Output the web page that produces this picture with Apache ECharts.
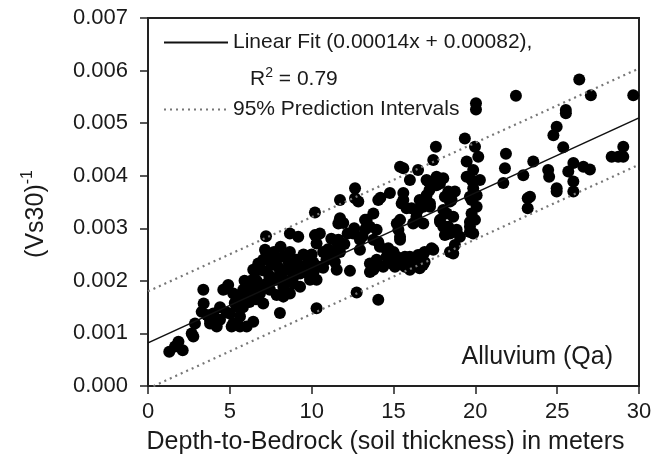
<!DOCTYPE html>
<html>
<head>
<meta charset="utf-8">
<script src="https://cdn.jsdelivr.net/npm/echarts@6/dist/echarts.min.js"></script>
<style>
  html, body { margin: 0; padding: 0; background: #fff; }
  #chart { width: 665px; height: 466px; }
</style>
</head>
<body>
<div id="chart"></div>
<script>
// depth to bedrock (m)
const depth = [
  1.3, 1.65, 1.86, 2.12, 2.67, 2.77, 2.87, 3.38, 3.28, 3.4, 3.79, 3.99, 3.79, 4.2, 4.4, 4.6, 4.75, 4.9,
  5.01, 5.11, 5.21, 5.21, 5.42, 5.62, 5.62, 5.62, 5.82, 6.03, 6.03, 6.13, 6.43, 6.43, 6.54, 6.54, 6.64,
  6.74, 6.84, 7.04, 7.04, 7.15, 7.21, 7.21, 7.25, 7.25, 7.45, 7.56, 7.86, 7.86, 7.86, 8.06, 8.06, 8.27,
  8.27, 8.27, 8.47, 8.67, 8.67, 8.67, 8.88, 8.88, 8.88, 9.08, 9.18, 9.29, 9.29, 9.49, 9.7, 9.9, 9.9,
  10.1, 10.2, 10.2, 10.3, 10.3, 10.3, 10.5, 10.5, 10.7, 10.9, 11.12, 11.32, 11.42, 11.53, 11.53, 11.53,
  11.63, 11.63, 11.73, 11.73, 11.73, 11.93, 12.34, 12.54, 12.65, 12.65, 12.75, 12.85, 12.95, 12.95,
  13.26, 13.26, 13.36, 13.36, 13.56, 13.56, 13.56, 13.77, 13.77, 13.77, 13.77, 13.97, 13.97, 14.07,
  14.07, 14.07, 14.17, 14.2, 14.37, 14.58, 14.58, 14.68, 14.78, 14.89, 15.0, 15.09, 15.2, 15.2, 15.3,
  15.4, 15.4, 15.4, 15.4, 15.4, 15.5, 15.6, 15.6, 15.6, 15.6, 15.7, 15.7, 15.8, 16.0, 16.0, 16.0, 16.1,
  16.2, 16.2, 16.4, 16.4, 16.4, 16.5, 16.5, 16.5, 16.6, 16.6, 16.82, 16.82, 16.82, 16.8, 16.9, 16.9,
  17.02, 17.02, 17.13, 17.2, 17.23, 17.23, 17.33, 17.43, 17.43, 17.59, 17.63, 17.63, 17.84, 17.84,
  17.84, 18.04, 18.04, 18.04, 18.14, 18.14, 18.25, 18.25, 18.35, 18.35, 18.45, 18.45, 18.45, 18.55,
  18.65, 18.65, 18.75, 18.75, 18.86, 19.06, 19.36, 19.47, 19.47, 19.67, 19.67, 19.67, 19.67, 19.77,
  19.77, 19.77, 19.87, 19.87, 19.87, 19.98, 19.98, 20.04, 20.04, 20.08, 20.08, 20.18, 20.28, 21.71,
  21.81, 21.87, 22.48, 22.93, 23.2, 23.2, 23.34, 23.54, 24.45, 24.51, 24.77, 24.97, 24.97, 24.97, 25.37,
  25.53, 25.53, 25.68, 25.99, 25.99, 25.99, 26.35, 26.6, 27.0, 27.06, 28.33, 28.73, 29.04, 29.04, 29.65,
  // extra points inside the dense band
  5.3, 5.8, 6.2, 6.6, 6.9, 7.4, 7.6, 8.0, 8.4, 8.6, 9.1, 9.5, 9.7, 10.0, 10.1, 10.7, 11.0, 11.2, 12.0,
  12.2, 12.6, 13.1, 7.0, 7.7, 8.1, 4.4, 4.8, 3.6, 6.3, 5.9
];
// (Vs30)^-1 values, same order as depth
const invVs30 = [
  0.00065, 0.00075, 0.00084, 0.00068, 0.00100, 0.00094, 0.00119, 0.00183, 0.00141, 0.00157, 0.00119,
  0.00138, 0.00126, 0.00113, 0.00126, 0.00183, 0.00185, 0.00192,
  0.00138, 0.00113, 0.00119, 0.00176, 0.00151, 0.00113, 0.00132, 0.00164, 0.00183, 0.00170, 0.00113,
  0.00183, 0.00122, 0.00221, 0.00183, 0.00217, 0.00200,
  0.00233, 0.00176, 0.00240, 0.00157, 0.00259, 0.00285, 0.00255, 0.00246, 0.00195, 0.00183, 0.00230,
  0.00240, 0.00202, 0.00173, 0.00214, 0.00139, 0.00246,
  0.00189, 0.00170, 0.00221, 0.00255, 0.00290, 0.00176, 0.00233, 0.00208, 0.00195, 0.00240, 0.00284,
  0.00214, 0.00189, 0.00227, 0.00246, 0.00233, 0.00202,
  0.00214, 0.00330, 0.00287, 0.00271, 0.00202, 0.00148, 0.00290, 0.00227, 0.00255, 0.00240, 0.00246,
  0.00246, 0.00236, 0.00274, 0.00259, 0.00221,
  0.00309, 0.00278, 0.00354, 0.00319, 0.00255, 0.00310, 0.00219, 0.00290, 0.00376, 0.00357, 0.00178,
  0.00351, 0.00278, 0.00259,
  0.00316, 0.00297, 0.00316, 0.00303, 0.00303, 0.00233, 0.00217, 0.00328, 0.00278, 0.00221, 0.00233,
  0.00297, 0.00240, 0.00354,
  0.00274, 0.00164, 0.00265, 0.00358, 0.00227, 0.00259, 0.00246, 0.00262, 0.00367, 0.00233, 0.00255,
  0.00227, 0.00309, 0.00246, 0.00297,
  0.00417, 0.00316, 0.00284, 0.00278, 0.00236, 0.00347, 0.00414, 0.00367, 0.00354, 0.00236, 0.00246,
  0.00227, 0.00338, 0.00392, 0.00246, 0.00221, 0.00338,
  0.00309, 0.00236, 0.00322, 0.00316, 0.00230, 0.00411, 0.00335, 0.00249, 0.00354, 0.00224, 0.00341,
  0.00309, 0.00252, 0.00230, 0.00255, 0.00236,
  0.00392, 0.00363, 0.00389, 0.00373, 0.00347, 0.00341, 0.00262, 0.00430, 0.00259, 0.00455, 0.00398,
  0.00382, 0.00385, 0.00316,
  0.00312, 0.00395, 0.00335, 0.00303, 0.00287, 0.00360, 0.00328, 0.00303, 0.00370, 0.00303, 0.00351,
  0.00290, 0.00255, 0.00354,
  0.00322, 0.00252, 0.00370, 0.00268, 0.00297, 0.00284, 0.00471, 0.00427, 0.00398, 0.00360, 0.00312,
  0.00303, 0.00293, 0.00392,
  0.00328, 0.00354, 0.00411, 0.00290, 0.00376, 0.00455, 0.00316, 0.00538, 0.00526, 0.00341, 0.00363,
  0.00436, 0.00392, 0.00386,
  0.00414, 0.00442, 0.00552, 0.00401, 0.00357, 0.00338, 0.00360, 0.00427, 0.00411, 0.00398, 0.00477,
  0.00493, 0.00376, 0.00370, 0.00454,
  0.00525, 0.00519, 0.00408, 0.00424, 0.00389, 0.00370, 0.00583, 0.00417, 0.00412, 0.00553, 0.00436,
  0.00436, 0.00455, 0.00436, 0.00553,
  0.00158, 0.00150, 0.00160, 0.00165, 0.00190, 0.00210, 0.00200, 0.00225, 0.00200, 0.00235, 0.00225,
  0.00250, 0.00215, 0.00250, 0.00235, 0.00225, 0.00260, 0.00280, 0.00270,
  0.00290, 0.00300, 0.00285, 0.00220, 0.00255, 0.00265, 0.00150, 0.00140, 0.00135, 0.00200, 0.00200
];

// fit line and 95% prediction bounds, read at the plot edges
const lineX = [0, 30];
const fitY = [0.00082, 0.0051];
const upperY = [0.0018, 0.00604];
const lowerY = [-0.00005, 0.00421];

const xTicks = [0, 5, 10, 15, 20, 25, 30];
const yTicks = [0, 0.001, 0.002, 0.003, 0.004, 0.005, 0.006, 0.007];

const FONT = 'Liberation Sans, Arial, sans-serif';
const fitName = 'Linear Fit (0.00014x + 0.00082),';
const piName = '95% Prediction Intervals';

const points = depth.map((d, i) => [d, invVs30[i]]);
const pair = (ys) => lineX.map((x, i) => [x, ys[i]]);

const chart = echarts.init(document.getElementById('chart'));
chart.setOption({
  animation: false,
  backgroundColor: '#fff',
  textStyle: { fontFamily: FONT },
  grid: {
    left: 148, right: 26, top: 18, bottom: 80,
    show: true, borderColor: '#222', borderWidth: 2, backgroundColor: 'transparent'
  },
  legend: {
    orient: 'vertical',
    left: 158, top: 27,
    itemWidth: 64, itemHeight: 14, itemGap: 46,
    // hide the marker dot, keep only the line sample
    data: [
      { name: fitName, itemStyle: { opacity: 0 } },
      { name: piName, itemStyle: { opacity: 0 } }
    ],
    textStyle: { fontSize: 21, color: '#1a1a1a', fontFamily: FONT }
  },
  graphic: [{
    type: 'text', left: 250, top: 66, z: 100,
    style: {
      text: 'R{sup|2} = 0.79',
      font: '21px ' + FONT, fill: '#1a1a1a',
      rich: { sup: { fontSize: 14, verticalAlign: 'top', padding: [0, 0, 12, 0], fontFamily: FONT } }
    }
  }, {
    type: 'text', right: 52, bottom: 96, z: 100,
    style: { text: 'Alluvium (Qa)', font: '25px ' + FONT, fill: '#1a1a1a' }
  }],
  xAxis: {
    type: 'value', min: xTicks[0], max: xTicks[xTicks.length - 1], interval: 5,
    name: 'Depth-to-Bedrock (soil thickness) in meters',
    nameLocation: 'middle', nameGap: 44,
    nameTextStyle: { fontSize: 25, color: '#1a1a1a', fontFamily: FONT, padding: [0, 16, 0, 0] },
    splitLine: { show: false },
    axisLine: { lineStyle: { color: '#222', width: 2 } },
    axisTick: { length: 8, lineStyle: { color: '#222', width: 1.5 } },
    axisLabel: { fontSize: 22, color: '#1a1a1a', margin: 15 }
  },
  yAxis: {
    type: 'value', min: yTicks[0], max: yTicks[yTicks.length - 1], interval: 0.001,
    name: '(Vs30){sup|-1}',
    nameLocation: 'middle', nameGap: 96, nameRotate: 90,
    nameTextStyle: {
      fontSize: 25, color: '#1a1a1a', fontFamily: FONT, padding: [0, 24, 0, 0],
      rich: { sup: { fontSize: 16, padding: [0, 0, 16, 0], fontFamily: FONT } }
    },
    splitLine: { show: false },
    axisLine: { lineStyle: { color: '#222', width: 2 } },
    axisTick: { length: 8, lineStyle: { color: '#222', width: 1.5 } },
    axisLabel: { fontSize: 22, color: '#1a1a1a', margin: 20, formatter: v => v.toFixed(3) }
  },
  series: [
    {
      name: 'points', type: 'scatter', data: points,
      symbolSize: 12, itemStyle: { color: '#000', opacity: 1 }, z: 2
    },
    {
      name: fitName, type: 'line', data: pair(fitY),
      showSymbol: false, symbol: 'none', clip: true,
      lineStyle: { color: '#111', width: 1.6 }, itemStyle: { color: '#111' }, z: 3
    },
    {
      name: piName, type: 'line', data: pair(upperY),
      showSymbol: false, symbol: 'none', clip: true,
      lineStyle: { color: '#777', width: 2.2, type: [2, 4] }, itemStyle: { color: '#777' }, z: 3
    },
    {
      name: piName, type: 'line', data: pair(lowerY),
      showSymbol: false, symbol: 'none', clip: true,
      lineStyle: { color: '#777', width: 2.2, type: [2, 4] }, itemStyle: { color: '#777' }, z: 3
    }
  ]
});
</script>
</body>
</html>
